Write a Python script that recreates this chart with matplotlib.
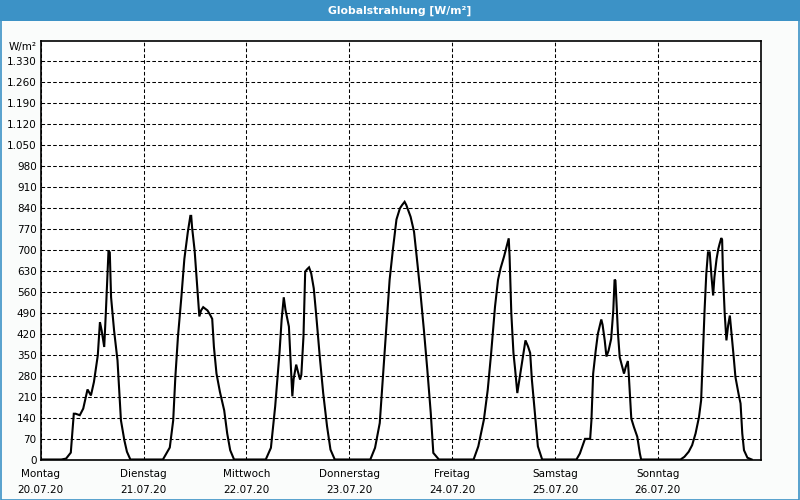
import matplotlib
matplotlib.use("Agg")
import matplotlib.pyplot as plt
from matplotlib.patches import Rectangle
from matplotlib.ticker import FuncFormatter, FixedLocator

# ---- data (hours since Monday 00:00, W/m²) ----
mon_h = [0, 4.8, 5.9, 7.0, 7.7, 8.1, 9.1, 9.9, 10.9, 11.7, 12.4, 13.3, 13.8, 14.2, 14.8, 15.2, 15.8, 16.1, 16.4, 17.1, 17.9, 18.7, 19.5, 20.1, 20.9]
mon_v = [0, 0, 3, 23, 153, 153, 148, 170, 234, 214, 259, 348, 459, 431, 376, 498, 698, 692, 542, 431, 331, 131, 64, 26, 0]
tue_h = [28.5, 30.1, 30.9, 31.4, 32.0, 32.8, 33.5, 34.3, 34.9, 35.1, 35.3, 35.9, 36.5, 37.0, 37.4, 37.9, 38.9, 39.6, 40.0, 40.4, 41.0, 41.8, 42.8, 43.5, 44.2, 45.1]
tue_v = [0, 40, 131, 276, 409, 542, 670, 759, 814, 814, 776, 698, 576, 478, 498, 509, 498, 481, 470, 376, 287, 226, 164, 87, 31, 0]
wed_h = [52.5, 53.7, 54.7, 55.7, 56.2, 56.7, 57.1, 57.9, 58.3, 58.5, 58.7, 59.0, 59.6, 60.0, 60.5, 60.8, 61.3, 61.7, 62.1, 62.6, 63.1, 63.7, 64.3, 65.1, 65.9, 66.8, 67.6, 68.6]
wed_v = [0, 39, 178, 356, 467, 542, 500, 444, 328, 272, 211, 269, 317, 294, 267, 283, 411, 628, 635, 642, 622, 572, 478, 344, 222, 111, 33, 0]
thu_h = [76.9, 78.0, 79.1, 79.8, 80.6, 81.4, 82.2, 83.0, 83.8, 84.3, 84.9, 85.3, 86.3, 87.1, 87.8, 88.6, 89.4, 90.2, 91.0, 91.6, 92.9]
thu_v = [0, 39, 122, 267, 433, 600, 706, 802, 839, 850, 861, 850, 811, 761, 667, 556, 433, 300, 156, 22, 0]
fri_h = [101.0, 102.1, 103.4, 104.3, 105.1, 106.0, 106.7, 107.3, 108.1, 108.7, 109.2, 109.4, 109.8, 110.3, 110.7, 111.2, 111.8, 112.5, 113.1, 113.7, 114.2, 114.6, 115.3, 116.0, 117.0]
fri_v = [0, 44, 133, 233, 356, 511, 600, 639, 678, 711, 739, 678, 489, 356, 300, 222, 278, 344, 398, 378, 356, 267, 156, 44, 0]
sat_h = [125.0, 125.8, 126.5, 127.0, 128.2, 128.5, 128.9, 129.5, 130.0, 130.8, 131.1, 131.6, 132.0, 132.5, 133.1, 133.6, 133.9, 134.1, 134.4, 134.7, 135.1, 135.7, 136.1, 136.5, 137.0, 137.2, 137.8, 138.4, 139.2, 139.8, 140.1]
sat_v = [0, 20, 48, 69, 69, 131, 287, 364, 420, 468, 450, 398, 344, 364, 403, 498, 601, 598, 509, 420, 342, 309, 287, 309, 329, 287, 137, 109, 76, 20, 0]
sun_h = [149.3, 150.2, 151.2, 152.0, 152.8, 153.6, 154.1, 154.5, 154.9, 155.3, 155.7, 156.1, 156.5, 156.9, 157.2, 157.7, 158.1, 158.4, 158.8, 159.0, 159.2, 159.6, 160.0, 160.4, 160.8, 161.2, 161.7, 162.1, 162.9, 163.3, 163.7, 164.1, 164.9, 165.9]
sun_v = [0, 9, 26, 48, 87, 142, 198, 353, 498, 620, 692, 692, 614, 548, 609, 670, 703, 720, 740, 734, 620, 487, 398, 448, 481, 420, 342, 276, 214, 187, 87, 31, 6, 0]

day_names = ["Montag", "Dienstag", "Mittwoch", "Donnerstag", "Freitag", "Samstag", "Sonntag"]
day_dates = ["20.07.20", "21.07.20", "22.07.20", "23.07.20", "24.07.20", "25.07.20", "26.07.20"]
y_ticks = list(range(0, 1331, 70))
title = "Globalstrahlung [W/m²]"
unit = "W/m²"

hours = mon_h + tue_h + wed_h + thu_h + fri_h + sat_h + sun_h
values = mon_v + tue_v + wed_v + thu_v + fri_v + sat_v + sun_v

# ---- figure ----
W, H = 800, 500
fig = plt.figure(figsize=(W / 100, H / 100), dpi=100)
bg = "#fafcfb"
blue = "#3c92c6"
fig.patch.set_facecolor(bg)

# title bar and outer frame
fig.patches.append(Rectangle((0, 1 - 21 / H), 1, 21 / H, transform=fig.transFigure,
                             facecolor=blue, edgecolor="none", zorder=0))
fig.patches.append(Rectangle((0.5 / W, 0.5 / H), 1 - 1.5 / W, 1 - 1.5 / H, transform=fig.transFigure,
                             facecolor="none", edgecolor=blue, linewidth=1.2, zorder=1))
fig.text(0.5, 1 - 11 / H, title, color="white", fontsize=7.8, fontweight="bold",
         ha="center", va="center")

left, right, top, bottom = 40.8, 760.7, 40.5, 459.5
ax = fig.add_axes([left / W, 1 - bottom / H, (right - left) / W, (bottom - top) / H])
ax.set_facecolor("white")
ax.plot(hours, values, color="black", linewidth=1.5, solid_joinstyle="miter")
ax.set_xlim(0, 168)
ax.set_ylim(0, 1400)

ax.yaxis.set_major_locator(FixedLocator(y_ticks))
ax.yaxis.set_major_formatter(FuncFormatter(lambda v, p: f"{int(v):,}".replace(",", ".")))
ax.set_xticks([24 * i for i in range(7)])
ax.set_xticklabels([f"{n}\n{d}" for n, d in zip(day_names, day_dates)], linespacing=1.7)

ax.tick_params(axis="both", length=0, labelsize=7.5, colors="black")
ax.tick_params(axis="y", pad=3)
ax.tick_params(axis="x", pad=7)

plt.rcParams["lines.scale_dashes"] = False
ax.grid(True, color="black", linewidth=0.75, linestyle=(0, (2.6, 1.6)))
ax.set_axisbelow(True)
for s in ax.spines.values():
    s.set_color("black")
    s.set_linewidth(1.2)

fig.text(37 / W, 1 - 47 / H, unit, fontsize=7.5, ha="right", va="center")

fig.savefig("out.png", dpi=100, facecolor=fig.get_facecolor())
